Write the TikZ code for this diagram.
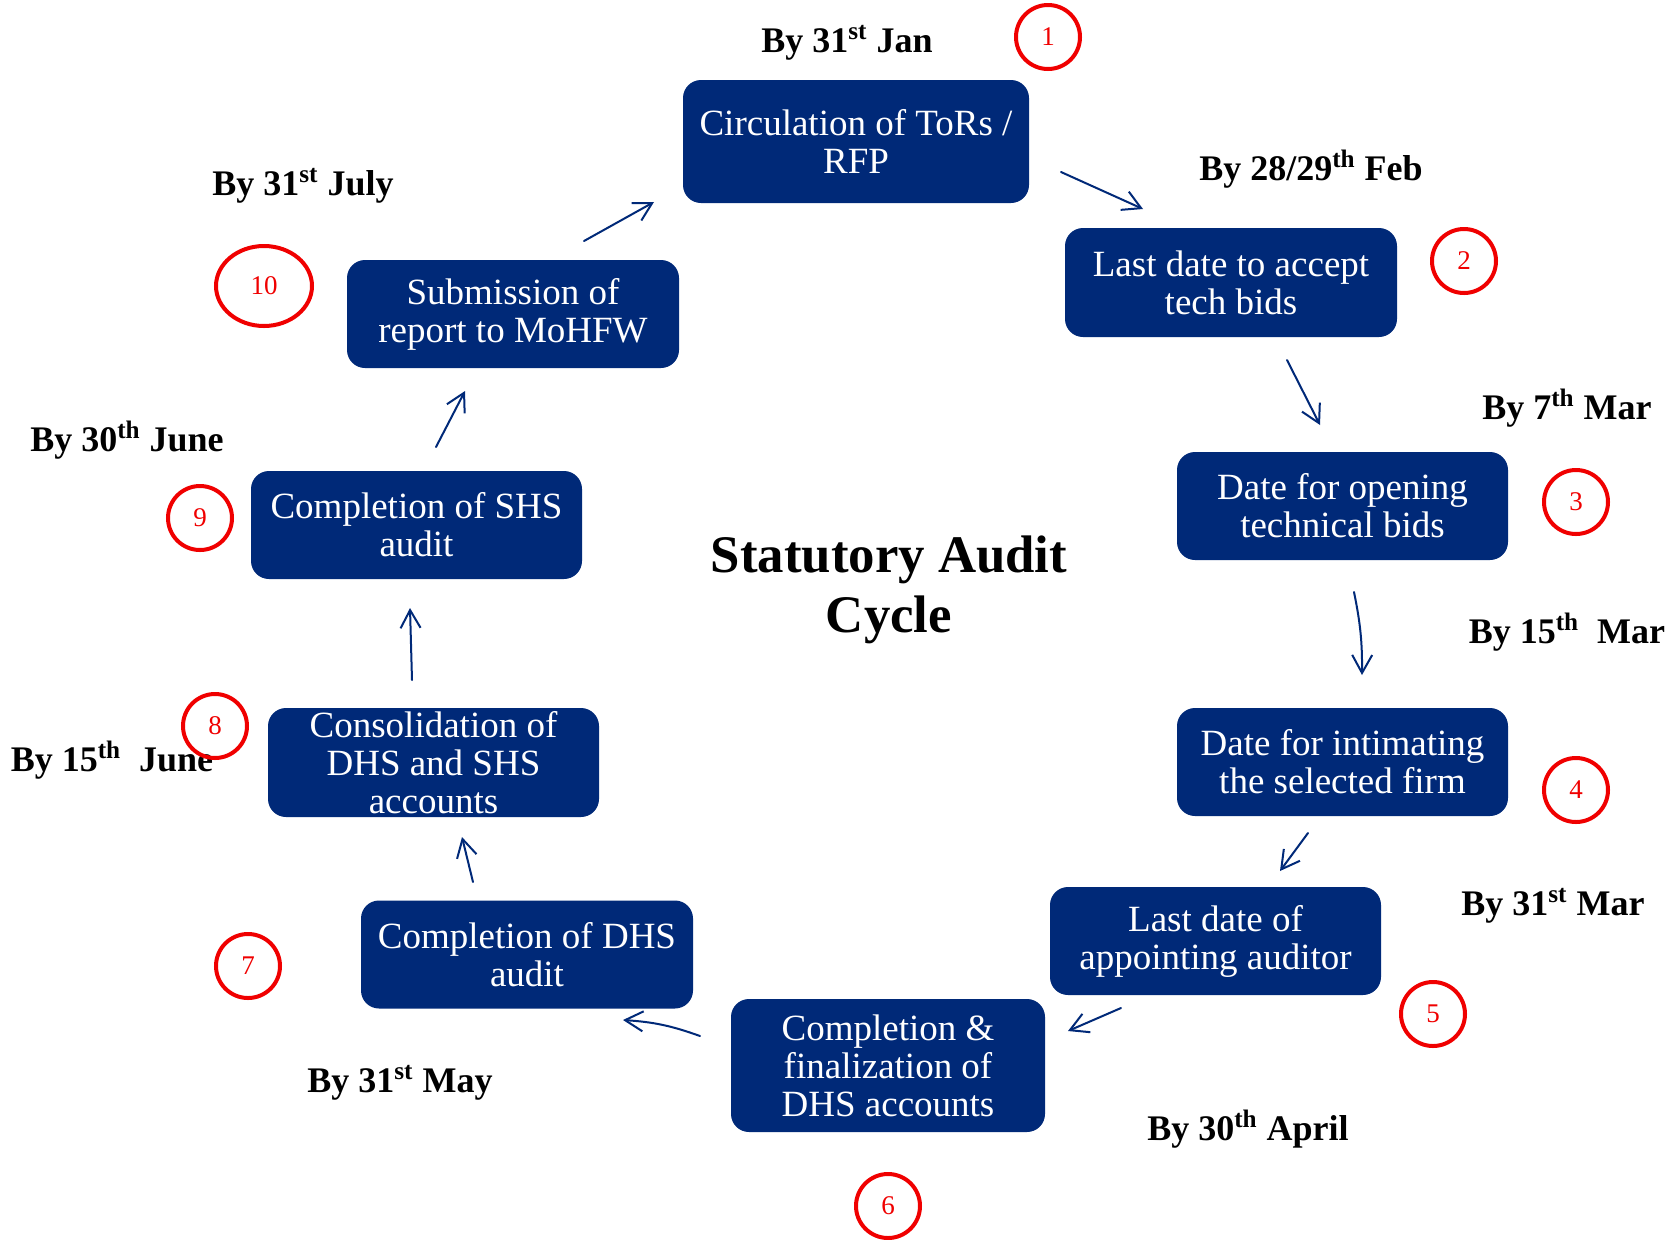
\documentclass[tikz,border=0pt]{standalone}
\usepackage{fontspec}
\setmainfont{Liberation Serif}
\usetikzlibrary{arrows.meta,shapes.geometric}
\definecolor{navy}{RGB}{0,41,120}
\definecolor{ringred}{RGB}{240,0,0}
\tikzset{
  stepbox/.style={draw=none, fill=navy, rounded corners=9pt, text=white, align=center,
    inner sep=0pt, font=\fontsize{18.5}{19}\selectfont},
  datelbl/.style={anchor=base, inner sep=0pt, font=\fontsize{18}{20}\selectfont\bfseries},
  numring/.style={circle, draw=ringred, line width=2pt, text=ringred, inner sep=0pt,
    minimum size=32pt, font=\fontsize{13.5}{14}\selectfont},
  flowarr/.style={draw=navy, line width=1pt, line cap=round, -{Straight Barb[length=9pt,width=10pt]}},
  titletxt/.style={align=center, inner sep=0pt, font=\fontsize{26.4}{30}\selectfont\bfseries}
}
\begin{document}
\begin{tikzpicture}[x=0.5pt,y=-0.5pt]
\useasboundingbox[fill=white] (0,0) rectangle (1672,1239);

% boxes
\node[stepbox, minimum width=173pt, minimum height=61.5pt] (b1) at (856,141.5) {Circulation of ToRs /\\RFP};
\node[stepbox, minimum width=166pt, minimum height=54.5pt] (b2) at (1231,282.5) {Last date to accept\\tech bids};
\node[stepbox, minimum width=165.5pt, minimum height=54pt] (b3) at (1342.5,506) {Date for opening\\technical bids};
\node[stepbox, minimum width=165.5pt, minimum height=54pt] (b4) at (1342.5,762) {Date for intimating\\the selected firm};
\node[stepbox, minimum width=165.5pt, minimum height=54pt] (b5) at (1215.5,941) {Last date of\\appointing auditor};
\node[stepbox, minimum width=157pt, minimum height=66.5pt] (b6) at (888,1065.5) {Completion \&\\finalization of\\DHS accounts};
\node[stepbox, minimum width=166pt, minimum height=54pt] (b7) at (527,954.5) {Completion of DHS\\audit};
\node[stepbox, minimum width=165.5pt, minimum height=54.5pt] (b8) at (433.5,762.5) {Consolidation of\\DHS and SHS\\accounts};
\node[stepbox, minimum width=165.5pt, minimum height=54pt] (b9) at (416.5,525) {Completion of SHS\\audit};
\node[stepbox, minimum width=166pt, minimum height=54pt] (b10) at (513,314) {Submission of\\report to MoHFW};

% title
\node[titletxt, anchor=base] (title) at (889,572) {Statutory Audit};
\node[titletxt, anchor=base] (title2) at (889,632) {Cycle};

% date labels
\node[datelbl] (d1) at (847,52) {By 31\textsuperscript{st} Jan};
\node[datelbl] (d2) at (1311,180) {By 28/29\textsuperscript{th} Feb};
\node[datelbl] (d3) at (1567,419) {By 7\textsuperscript{th} Mar};
\node[datelbl] (d4) at (1567,643) {By 15\textsuperscript{th}\ \ Mar};
\node[datelbl] (d5) at (1553,915) {By 31\textsuperscript{st} Mar};
\node[datelbl] (d6) at (1248,1140) {By 30\textsuperscript{th} April};
\node[datelbl] (d7) at (400,1092) {By 31\textsuperscript{st} May};
\node[datelbl] (d8) at (112,771) {By 15\textsuperscript{th}\ \ June};
\node[datelbl] (d9) at (127,451) {By 30\textsuperscript{th} June};
\node[datelbl] (d10) at (303,195) {By 31\textsuperscript{st} July};

% number rings
\node[numring] (n1) at (1048,37) {1};
\node[numring] (n2) at (1464,261) {2};
\node[numring] (n3) at (1576,502) {3};
\node[numring] (n4) at (1576,790) {4};
\node[numring] (n5) at (1433,1014) {5};
\node[numring] (n6) at (888,1206) {6};
\node[numring] (n7) at (248,966) {7};
\node[numring] (n8) at (215,726) {8};
\node[numring] (n9) at (200,518) {9};
\node[numring, ellipse, minimum width=48pt, minimum height=40pt] (n10) at (264,286) {10};

% arrow end points
\coordinate (a1s) at (1061,172);  \coordinate (a1e) at (1143,209);
\coordinate (a2s) at (1287,360);  \coordinate (a2e) at (1320,425);
\coordinate (a3s) at (1354,592);  \coordinate (a3e) at (1362,675);
\coordinate (a4s) at (1308,833);  \coordinate (a4e) at (1280,871);
\coordinate (a5s) at (1121,1008); \coordinate (a5e) at (1068,1031);
\coordinate (a6s) at (700,1036);  \coordinate (a6e) at (623,1020);
\coordinate (a7s) at (473,882);   \coordinate (a7e) at (462,837);
\coordinate (a8s) at (412,680);   \coordinate (a8e) at (410,608);
\coordinate (a9s) at (436,447);   \coordinate (a9e) at (465,391);
\coordinate (a10s) at (584,241);  \coordinate (a10e) at (654,202);

\draw[flowarr] (a1s) -- (a1e);
\draw[flowarr] (a2s) -- (a2e);
\draw[flowarr] (a3s) to[bend left=6] (a3e);
\draw[flowarr] (a4s) -- (a4e);
\draw[flowarr] (a5s) -- (a5e);
\draw[flowarr] (a6s) to[bend right=8] (a6e);
\draw[flowarr] (a7s) -- (a7e);
\draw[flowarr] (a8s) -- (a8e);
\draw[flowarr] (a9s) -- (a9e);
\draw[flowarr] (a10s) -- (a10e);
\end{tikzpicture}
\end{document}
